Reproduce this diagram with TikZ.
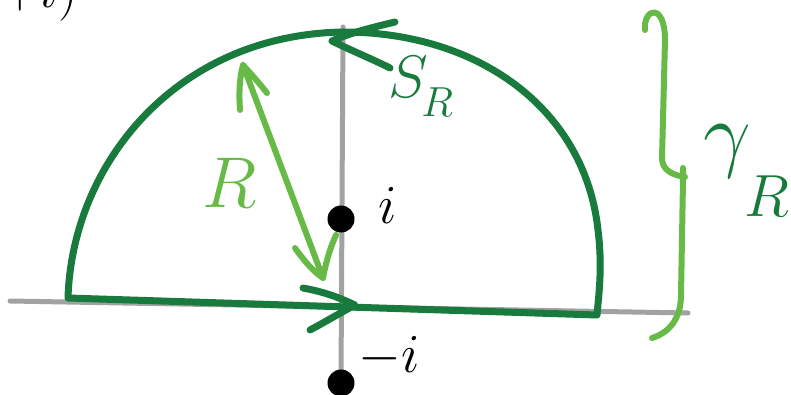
\documentclass[tikz,border=0pt]{standalone}
\usepackage{fix-cm}
\definecolor{dkgreen}{RGB}{24,122,60}
\definecolor{ltgreen}{RGB}{104,186,70}
\definecolor{axisgray}{RGB}{162,162,162}
\begin{document}
\begin{tikzpicture}[x=1pt,y=-1pt, line cap=round, line join=round,
  axisline/.style={draw=axisgray, line width=5pt},
  contour/.style={draw=dkgreen, line width=7pt},
  ltstroke/.style={draw=ltgreen, line width=6pt},
  dotnode/.style={circle, fill=black, minimum size=27pt, inner sep=0pt},
  lbl/.style={inner sep=0pt}]
\useasboundingbox (0,0) rectangle (791,395);
\fill[white] (0,0) rectangle (791,395);

% cut-off text at the top left
\node[lbl, anchor=base east, font=\fontsize{55}{60}\selectfont] (cut) at (78,8) {$+i)$};

% axes
\coordinate (xL) at (10,301);
\coordinate (xR) at (688,313);
\coordinate (yT) at (343,27);
\coordinate (yB) at (341,380);
\draw[axisline] (xL) -- (xR);
\draw[axisline] (yT) -- (yB);

% poles
\node[dotnode] (pi) at (341,219) {};
\node[dotnode] (mi) at (341,383) {};
\node[lbl, font=\fontsize{55}{60}\selectfont] (li) at (388,205) {$i$};
\node[lbl, font=\fontsize{55}{60}\selectfont] (lmi) at (389,357) {$-i$};

% contour gamma_R
\coordinate (A) at (68,298);
\coordinate (B) at (597,315);
\coordinate (T) at (343,32);
\draw[contour] (A) .. controls (72,165) and (175,35) .. (T)
  .. controls (480,32) and (585,110) .. (598,230)
  .. controls (603,270) and (598,300) .. (B) -- (A);

% direction marks on the contour
\draw[contour] (303,288) .. controls (325,292) and (340,298) .. (355,305)
  .. controls (340,313) and (325,322) .. (310,330);
\draw[contour] (395,22) .. controls (370,28) and (350,33) .. (332,41)
  .. controls (350,50) and (370,58) .. (390,68);
\node[lbl, anchor=base west, text=dkgreen, font=\fontsize{60}{64}\selectfont] (SR) at (388,98)
  {$S_{\kern-3pt\lower 10pt\hbox{$\scriptstyle R$}}$};

% radius R
\coordinate (Rt) at (243,65);
\coordinate (Rb) at (323,278);
\draw[ltstroke] (Rt) -- (Rb);
\draw[ltstroke] (240,110) .. controls (239,95) and (239,80) .. (Rt)
  .. controls (252,75) and (260,84) .. (267,93);
\draw[ltstroke] (295,248) .. controls (305,262) and (314,272) .. (Rb)
  .. controls (326,262) and (330,248) .. (336,235);
\node[lbl, text=ltgreen, font=\fontsize{72}{80}\selectfont] (Rl) at (230,183) {$R$};

% brace for gamma_R
\draw[ltstroke] (645,30) .. controls (643,8) and (665,2) .. (665,40)
  -- (662,158) .. controls (662,170) and (672,175) .. (685,177);
\draw[ltstroke] (683,168) -- (683,180)
  -- (681,295) .. controls (681,320) and (668,333) .. (652,338);
\node[lbl, anchor=base west, text=dkgreen, font=\fontsize{85}{90}\selectfont] (gR) at (703,162)
  {$\gamma_{\kern-2pt\lower 42pt\hbox{$\scriptstyle R$}}$};
\end{tikzpicture}
\end{document}
